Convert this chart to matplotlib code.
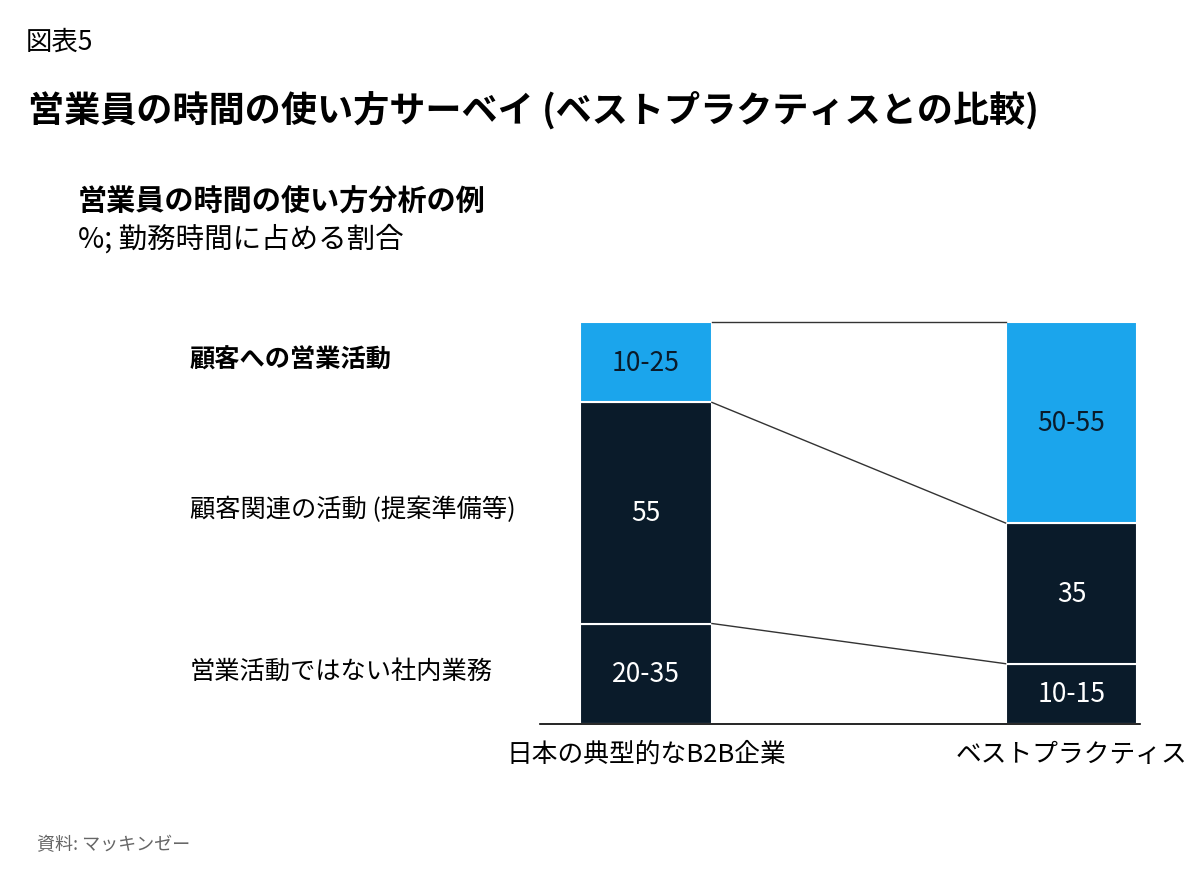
import matplotlib
matplotlib.use('Agg')
import matplotlib.pyplot as plt
import numpy as np

plt.rcParams['font.family'] = ['Noto Sans CJK JP', 'DejaVu Sans']

# データ
groups = ['日本の典型的なB2B企業', 'ベストプラクティス']
segments = ['営業活動ではない社内業務', '顧客関連の活動 (提案準備等)', '顧客への営業活動']
# 描画用の高さ (%)、下から積み上げ
heights = {
    '日本の典型的なB2B企業': [25, 55, 20],
    'ベストプラクティス': [15, 35, 50],
}
labels = {
    '日本の典型的なB2B企業': ['20-35', '55', '10-25'],
    'ベストプラクティス': ['10-15', '35', '50-55'],
}

navy = '#0a1b2a'
blue = '#1ba5ec'
seg_colors = [navy, navy, blue]
txt_colors = ['white', 'white', navy]

fig = plt.figure(figsize=(12, 8.79), dpi=100)
ax = fig.add_axes([0.45, 1 - 725 / 879, 0.5, 402 / 879])

x = np.array([0, 1])
width = 0.31
bottoms = {}
for i, g in enumerate(groups):
    b = 0
    bottoms[g] = []
    for j, h in enumerate(heights[g]):
        ax.bar(x[i], h, width, bottom=b, color=seg_colors[j],
               edgecolor='white', linewidth=1.5)
        ax.text(x[i], b + h / 2, labels[g][j], ha='center', va='center',
                fontsize=19, color=txt_colors[j])
        b += h
        bottoms[g].append(b)

# 棒の間の接続線
for k in range(3):
    y0 = bottoms[groups[0]][k]
    y1 = bottoms[groups[1]][k]
    ax.plot([x[0] + width / 2, x[1] - width / 2], [y0, y1],
            color='#333333', linewidth=1, clip_on=False)

ax.set_xlim(-0.249, 1.161)
ax.set_ylim(0, 100)
for s in ['top', 'right', 'left']:
    ax.spines[s].set_visible(False)
ax.spines['bottom'].set_color('black')
ax.spines['bottom'].set_linewidth(1.2)
ax.set_yticks([])
ax.set_xticks(x)
ax.set_xticklabels(groups, fontsize=18.5)
ax.tick_params(axis='x', length=0, pad=12)

# 左側の区分ラベル
seg_y = [672, 510, 360]
for j, name in enumerate(segments):
    fig.text(190 / 1200, 1 - seg_y[j] / 879, name, ha='left', va='center',
             fontsize=18.2, fontweight='bold' if j == 2 else 'normal')

# タイトル類
fig.text(26 / 1200, 1 - 42 / 879, '図表5', fontsize=19, va='center')
fig.text(28 / 1200, 1 - 110 / 879,
         '営業員の時間の使い方サーベイ (ベストプラクティスとの比較)',
         fontsize=26, fontweight='bold', va='center')
fig.text(78 / 1200, 1 - 202 / 879, '営業員の時間の使い方分析の例',
         fontsize=21, fontweight='bold', va='center')
fig.text(78 / 1200, 1 - 240 / 879, '%; 勤務時間に占める割合',
         fontsize=20.5, va='center')
fig.text(37 / 1200, 1 - 845 / 879, '資料: マッキンゼー',
         fontsize=13, color='#666666', va='center')

fig.savefig('out.png', dpi=100, facecolor='white')
